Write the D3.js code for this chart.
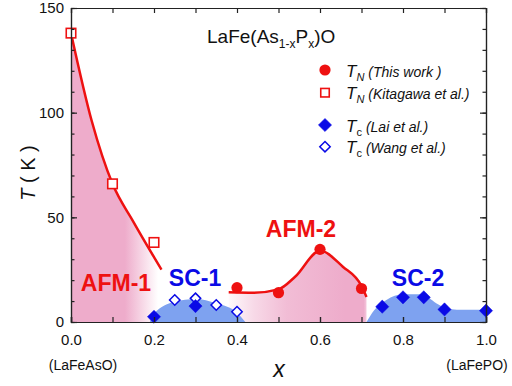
<!DOCTYPE html>
<html>
<head>
<meta charset="utf-8">
<script src="https://cdn.jsdelivr.net/npm/d3@7"></script>
<style>
  body { margin: 0; background: #fff; }
  svg { font-family: Arial, "Liberation Sans", sans-serif; }
  .axis path, .axis line { stroke: #222; stroke-width: 1.2; }
  .axis text { font-size: 15px; fill: #111; }
</style>
</head>
<body>
<svg width="512" height="386"></svg>
<script>
// data: [x, T]
const tnThisWork = [[0.4, 16.4], [0.5, 14], [0.6, 34.7], [0.7, 16]];
const tnKitagawa = [[0.0, 138], [0.1, 66], [0.2, 38]];
const tcLai = [[0.2, 2.5], [0.3, 7.6], [0.75, 7.3], [0.8, 11.8], [0.85, 11.8], [0.9, 6], [1.0, 5.4]];
const tcWang = [[0.25, 10.5], [0.3, 11.3], [0.35, 8.1], [0.4, 4.9]];

// guide-to-eye curves and domes
const afm1Line = [[0, 138], [0.05, 96], [0.1, 66], [0.15, 48], [0.2, 31], [0.218, 25]];
const afm2Line = [[0.38, 14.2], [0.44, 14], [0.5, 15.6], [0.54, 21.6], [0.6, 34], [0.655, 26.4], [0.7, 17.2], [0.712, 12]];
const sc1Dome = [[0.19, 0], [0.2, 4], [0.25, 9.7], [0.3, 11], [0.35, 8.9], [0.4, 4.4], [0.42, 0]];
const sc2Dome = [[0.712, 0], [0.73, 5.5], [0.76, 10.5], [0.8, 13.2], [0.845, 13.2], [0.88, 9], [0.91, 6.2], [0.95, 5.8], [1.0, 5.8]];

const xMajor = [0, 0.2, 0.4, 0.6, 0.8, 1.0];
const xMinor = d3.range(0, 1.01, 0.1);
const yMajor = [0, 50, 100, 150];
const yMinor = d3.range(0, 151, 10);

const svg = d3.select("svg");
const margin = {top: 8, right: 26, bottom: 64, left: 71};
const width = 512 - margin.left - margin.right,
    height = 386 - margin.top - margin.bottom;

const x = d3.scaleLinear().domain([0, 1]).range([margin.left, margin.left + width]);
const y = d3.scaleLinear().domain([0, 150]).range([margin.top + height, margin.top]);

const pink = "#eeaccb", blueFill = "#7ea2f0", red = "#ee1111", blue = "#0a0ae6";

// gradients for the fading pink regions
const defs = svg.append("defs");
function grad(id, stops) {
    const g = defs.append("linearGradient").attr("id", id)
        .attr("gradientUnits", "userSpaceOnUse")
        .attr("x1", x(0)).attr("x2", x(1)).attr("y1", 0).attr("y2", 0);
    stops.forEach(s => g.append("stop").attr("offset", s[0])
        .attr("stop-color", pink).attr("stop-opacity", s[1]));
}
grad("g1", [[0, 1], [0.13, 1], [0.21, 0]]);
grad("g2", [[0.37, 0], [0.44, 0.45], [0.52, 0.8], [0.66, 1], [0.705, 1], [0.72, 0.3]]);

const area = d3.area().x(d => x(d[0])).y0(y(0)).y1(d => y(d[1])).curve(d3.curveMonotoneX);
const line = d3.line().x(d => x(d[0])).y(d => y(d[1])).curve(d3.curveMonotoneX);

svg.append("path").datum(afm1Line).attr("d", area).attr("fill", "url(#g1)");
svg.append("path").datum(afm2Line).attr("d", area).attr("fill", "url(#g2)");
svg.append("path").datum(sc1Dome).attr("d", area).attr("fill", blueFill);
svg.append("path").datum(sc2Dome).attr("d", area).attr("fill", blueFill);

svg.append("path").datum(afm1Line).attr("d", line)
    .attr("fill", "none").attr("stroke", red).attr("stroke-width", 2.5);
svg.append("path").datum(afm2Line).attr("d", line)
    .attr("fill", "none").attr("stroke", red).attr("stroke-width", 2.5);

// markers
const diamond = s => `M0,${-s}L${s},0L0,${s}L${-s},0Z`;
function drawSquare(g, cx, cy, s = 9.5) {
    g.append("rect").attr("x", cx - s / 2).attr("y", cy - s / 2).attr("width", s).attr("height", s)
        .attr("fill", "#fff").attr("stroke", red).attr("stroke-width", 1.6);
}
function drawCircle(g, cx, cy) {
    g.append("circle").attr("cx", cx).attr("cy", cy).attr("r", 5.6).attr("fill", red);
}
function drawDiamond(g, cx, cy, open) {
    g.append("path").attr("transform", `translate(${cx},${cy})`)
        .attr("d", diamond(open ? 5.2 : 6.6))
        .attr("fill", open ? "#fff" : blue).attr("stroke", blue).attr("stroke-width", open ? 1.5 : 0.5);
}
const marks = svg.append("g");
tnKitagawa.forEach(d => drawSquare(marks, x(d[0]), y(d[1])));
tnThisWork.forEach(d => drawCircle(marks, x(d[0]), y(d[1])));
tcWang.forEach(d => drawDiamond(marks, x(d[0]), y(d[1]), true));
tcLai.forEach(d => drawDiamond(marks, x(d[0]), y(d[1]), false));

// region labels
const regionLabels = [
    {t: "AFM-1", x: 116, y: 291, c: red},
    {t: "SC-1", x: 195, y: 286, c: blue},
    {t: "AFM-2", x: 301, y: 237, c: red},
    {t: "SC-2", x: 418, y: 286, c: blue}
];
svg.selectAll(".region").data(regionLabels).enter().append("text")
    .attr("x", d => d.x).attr("y", d => d.y)
    .attr("text-anchor", "middle").attr("font-size", 23).attr("font-weight", "bold")
    .attr("fill", d => d.c).text(d => d.t);

// title
const title = svg.append("text").attr("x", 207).attr("y", 43).attr("font-size", 19).attr("fill", "#111");
title.append("tspan").text("LaFe(As");
title.append("tspan").attr("font-size", 12).attr("dy", 5).text("1-x");
title.append("tspan").attr("dy", -5).text("P");
title.append("tspan").attr("font-size", 12).attr("dy", 5).text("x");
title.append("tspan").attr("dy", -5).text(")O");

// legend
const legendRows = [
    {sym: "circle", sub: "N", note: "(This work )", y: 70},
    {sym: "square", sub: "N", note: "(Kitagawa  et al.)", y: 92.7},
    {sym: "diamond", sub: "c", note: "(Lai et al.)", y: 125},
    {sym: "odiamond", sub: "c", note: "(Wang et al.)", y: 146.7}
];
const legend = svg.append("g");
legendRows.forEach(r => {
    if (r.sym === "circle") drawCircle(legend, 325, r.y);
    if (r.sym === "square") drawSquare(legend, 325, r.y, 8.5);
    if (r.sym === "diamond") drawDiamond(legend, 325, r.y, false);
    if (r.sym === "odiamond") drawDiamond(legend, 325, r.y, true);
    const t = legend.append("text").attr("x", 346).attr("y", r.y + 6.5).attr("fill", "#111").attr("font-size", 17);
    t.append("tspan").attr("font-style", "italic").text("T");
    t.append("tspan").attr("font-size", 11).attr("dy", 4)
        .attr("font-style", r.sub === "N" ? "italic" : "normal").text(r.sub);
    t.append("tspan").attr("dy", -4).attr("dx", 4).attr("font-size", 14).attr("font-style", "italic").text(r.note);
});

// axes, ticks pointing inward
svg.append("g").attr("class", "axis")
    .attr("transform", `translate(0,${y(0)})`)
    .call(d3.axisBottom(x).tickValues(xMinor).tickSize(-5).tickFormat(""));
svg.append("g").attr("class", "axis")
    .attr("transform", `translate(0,${y(0)})`)
    .call(d3.axisBottom(x).tickValues(xMajor).tickSize(-5).tickPadding(12).tickFormat(d3.format(".1f")));
svg.append("g").attr("class", "axis")
    .attr("transform", `translate(0,${y(150)})`)
    .call(d3.axisTop(x).tickValues(xMinor).tickSize(-5).tickFormat(""));
[[d3.axisLeft, x(0)], [d3.axisRight, x(1)]].forEach(([ax, pos], i) => {
    svg.append("g").attr("class", "axis").attr("transform", `translate(${pos},0)`)
        .call(ax(y).tickValues(yMinor).tickSize(-3.5).tickFormat(""));
    svg.append("g").attr("class", "axis").attr("transform", `translate(${pos},0)`)
        .call(ax(y).tickValues(yMajor).tickSize(-6).tickPadding(7).tickFormat(i === 0 ? d3.format("d") : ""));
});
svg.selectAll(".axis .domain").attr("stroke-width", 1.3);

// axis titles
const yl = svg.append("text").attr("transform", "translate(35,173) rotate(-90)")
    .attr("text-anchor", "middle").attr("font-size", 20).attr("fill", "#111");
yl.append("tspan").attr("font-style", "italic").text("T");
yl.append("tspan").text(" ( K )");
svg.append("text").attr("x", 279).attr("y", 377).attr("text-anchor", "middle")
    .attr("font-size", 23).attr("font-style", "italic").attr("fill", "#111").text("x");
svg.append("text").attr("x", 83).attr("y", 370).attr("text-anchor", "middle")
    .attr("font-size", 14).attr("fill", "#111").text("(LaFeAsO)");
svg.append("text").attr("x", 477).attr("y", 370).attr("text-anchor", "middle")
    .attr("font-size", 14).attr("fill", "#111").text("(LaFePO)");
</script>
</body>
</html>
